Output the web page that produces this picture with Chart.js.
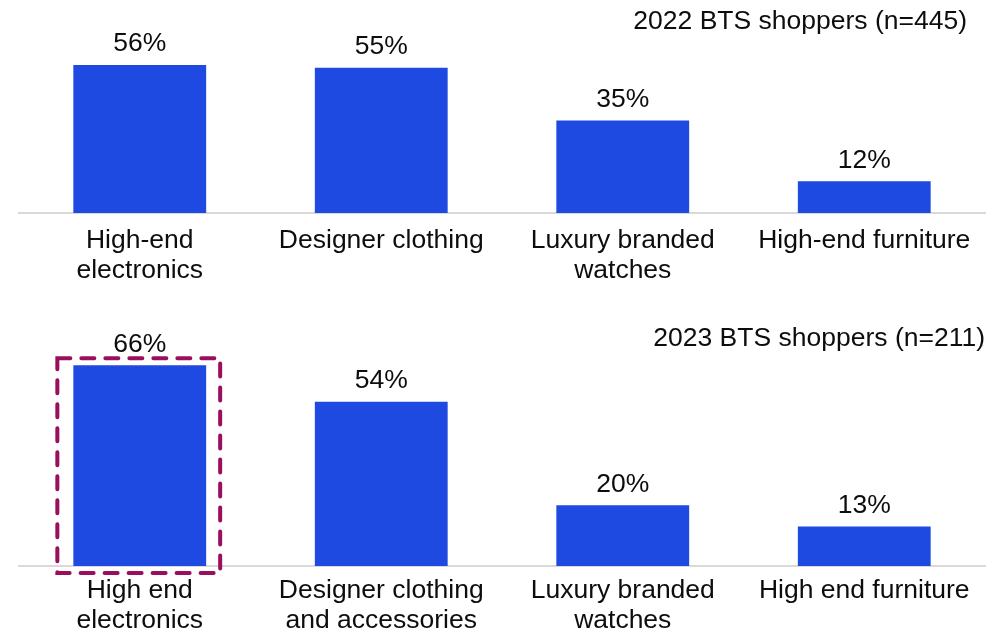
<!DOCTYPE html>
<html>
<head>
<meta charset="utf-8">
<script src="https://cdn.jsdelivr.net/npm/chart.js@4.4.0/dist/chart.umd.min.js"></script>
<style>
  html, body { margin: 0; padding: 0; background: #fff; }
  .panel { position: absolute; left: 0; width: 997px; height: 318px; }
  #top { top: 0; }
  #bottom { top: 318px; }
</style>
</head>
<body>
<div class="panel" id="top"><canvas id="chart2022"></canvas></div>
<div class="panel" id="bottom"><canvas id="chart2023"></canvas></div>
<script>
// categories and percentages per survey year
const categories2022 = [["High-end", "electronics"], "Designer clothing", ["Luxury branded", "watches"], "High-end furniture"];
const values2022 = [56, 55, 35, 12];
const title2022 = "2022 BTS shoppers (n=445)";

const categories2023 = [["High end", "electronics"], ["Designer clothing", "and accessories"], ["Luxury branded", "watches"], "High end furniture"];
const values2023 = [66, 54, 20, 13];
const title2023 = "2023 BTS shoppers (n=211)";

const FONT = "'Liberation Sans', Arial, sans-serif";
const FONT_SIZE = 26.5;
const BAR_COLOR = "#1f4ae2";
const TEXT_COLOR = "#0d0d0d";

// value labels above each bar + the panel title in the top right corner
const labelsPlugin = {
    id: 'barLabels',
    afterDatasetsDraw(chart, args, opts) {
        const ctx = chart.ctx;
        const meta = chart.getDatasetMeta(0);
        ctx.save();
        ctx.font = FONT_SIZE + "px " + FONT;
        ctx.fillStyle = TEXT_COLOR;
        ctx.textAlign = 'center';
        ctx.textBaseline = 'middle';
        meta.data.forEach((bar, i) => {
            ctx.fillText(chart.data.datasets[0].data[i] + "%", bar.x, bar.y - 21);
        });
        ctx.textAlign = 'right';
        ctx.fillText(opts.title, opts.titleX, opts.titleY);
        ctx.restore();
    }
};

// dashed highlight box around one bar
const highlightPlugin = {
    id: 'highlight',
    afterDatasetsDraw(chart, args, opts) {
        if (opts.index === undefined) return;
        const bar = chart.getDatasetMeta(0).data[opts.index];
        const ctx = chart.ctx;
        const left = bar.x - bar.width / 2 - 16;
        const right = bar.x + bar.width / 2 + 14;
        const top = bar.y - 7;
        const bottom = bar.base + 7;
        ctx.save();
        ctx.strokeStyle = "#9a0f5d";
        ctx.lineWidth = 4;
        ctx.lineCap = 'round';
        ctx.setLineDash([13, 11]);
        ctx.strokeRect(left, top, right - left, bottom - top);
        ctx.restore();
    }
};

function makeChart(canvasId, labels, values, yMax, padTop, axisHeight, tickPad, title, titleX, titleY, highlightIndex) {
    const ctx = document.getElementById(canvasId).getContext('2d');
    return new Chart(ctx, {
        type: 'bar',
        data: {
            labels: labels,
            datasets: [{
                data: values,
                backgroundColor: BAR_COLOR,
                borderWidth: 0,
                categoryPercentage: 1,
                barPercentage: 0.55
            }]
        },
        options: {
            responsive: true,
            maintainAspectRatio: false,
            animation: false,
            layout: { padding: { top: padTop, left: 19, right: 12, bottom: 0 } },
            plugins: {
                legend: { display: false },
                tooltip: { enabled: false },
                barLabels: { title: title, titleX: titleX, titleY: titleY },
                highlight: { index: highlightIndex }
            },
            scales: {
                x: {
                    grid: { display: false, drawTicks: false },
                    border: { display: true, color: "#d9d9d9", width: 2 },
                    ticks: {
                        color: TEXT_COLOR,
                        padding: tickPad,
                        maxRotation: 0,
                        autoSkip: false,
                        font: { family: FONT, size: FONT_SIZE, lineHeight: 30 / FONT_SIZE }
                    },
                    afterFit: (scale) => { scale.height = axisHeight; }
                },
                y: {
                    display: false,
                    min: 0,
                    max: yMax
                }
            }
        },
        plugins: [labelsPlugin, highlightPlugin]
    });
}

makeChart('chart2022', categories2022, values2022, 70, 28, 105, 13, title2022, 967, 22, undefined);
makeChart('chart2023', categories2023, values2023, 75, 20, 70, 10, title2023, 985, 21, 0);
</script>
</body>
</html>
